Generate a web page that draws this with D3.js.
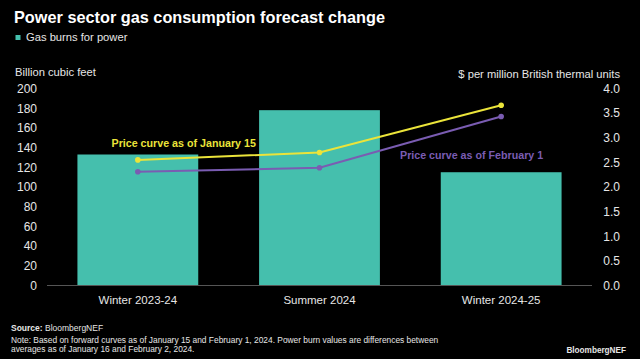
<!DOCTYPE html>
<html>
<head>
<meta charset="utf-8">
<script src="https://cdn.jsdelivr.net/npm/d3@7/dist/d3.min.js"></script>
<style>
html,body{margin:0;padding:0;background:#000;}
svg{display:block;font-family:"Liberation Sans",Arial,sans-serif;}
</style>
</head>
<body>
<svg id="chart" width="640" height="359"></svg>
<script>
const categories = ["Winter 2023-24", "Summer 2024", "Winter 2024-25"];
const gasBurns = [133, 178, 115];
const priceJan15 = [2.55, 2.70, 3.66];
const priceFeb1 = [2.31, 2.39, 3.43];
const leftTicks = [0, 20, 40, 60, 80, 100, 120, 140, 160, 180, 200];
const rightTicks = [0, 0.5, 1, 1.5, 2, 2.5, 3, 3.5, 4];

const svg = d3.select("#chart");
svg.append("rect").attr("width", 640).attr("height", 359).attr("fill", "#000");

const teal = "#45bfad", yellow = "#ebe43a", purple = "#7a5cb2";

const x = d3.scaleBand().domain(categories).range([47, 592]).paddingInner(0.335).paddingOuter(0.1675);
const yL = d3.scaleLinear().domain([0, 200]).range([285.5, 88.5]);
const yR = d3.scaleLinear().domain([0, 4]).range([285.5, 88.5]);

// Title & legend
svg.append("text").attr("x", 14).attr("y", 23).attr("fill", "#fff")
  .attr("font-weight", "bold").attr("font-size", 16.3).text("Power sector gas consumption forecast change");
svg.append("rect").attr("x", 15.5).attr("y", 35).attr("width", 5).attr("height", 5).attr("fill", teal);
svg.append("text").attr("x", 26).attr("y", 41.3).attr("fill", "#e6e6e6").attr("font-size", 11.2).text("Gas burns for power");

// Axis titles
svg.append("text").attr("x", 15).attr("y", 75.5).attr("fill", "#e6e6e6").attr("font-size", 11.2).text("Billion cubic feet");
svg.append("text").attr("x", 620).attr("y", 77.5).attr("text-anchor", "end").attr("fill", "#e6e6e6").attr("font-size", 11.2).text("$ per million British thermal units");

// Bars
svg.append("g").selectAll("rect").data(categories).join("rect")
  .attr("x", d => x(d)).attr("width", x.bandwidth())
  .attr("y", (d, i) => yL(gasBurns[i])).attr("height", (d, i) => yL(0) - yL(gasBurns[i]))
  .attr("fill", teal);

// Left axis
const gl = svg.append("g").attr("transform", "translate(37,0)")
  .call(d3.axisLeft(yL).tickValues(leftTicks).tickSize(0).tickPadding(0).tickFormat(d3.format("d")));
gl.select(".domain").remove();
gl.selectAll("text").attr("fill", "#e6e6e6").attr("font-size", 12).attr("font-family", "Liberation Sans, Arial, sans-serif");

// Right axis
const gr = svg.append("g").attr("transform", "translate(620,0)")
  .call(d3.axisLeft(yR).tickValues(rightTicks).tickSize(0).tickPadding(0).tickFormat(d3.format(".1f")));
gr.select(".domain").remove();
gr.selectAll("text").attr("fill", "#e6e6e6").attr("font-size", 12).attr("font-family", "Liberation Sans, Arial, sans-serif");

// Baseline
svg.append("line").attr("x1", 47).attr("x2", 592).attr("y1", yL(0)).attr("y2", yL(0))
  .attr("stroke", "#555").attr("stroke-width", 1);

// Bottom axis
const gb = svg.append("g").attr("transform", `translate(0,${yL(0)})`)
  .call(d3.axisBottom(x).tickSize(0).tickPadding(0));
gb.select(".domain").remove();
gb.selectAll("text").attr("fill", "#e6e6e6").attr("font-size", 11.5).attr("font-family", "Liberation Sans, Arial, sans-serif")
  .attr("dy", null).attr("y", 18);

// Lines
const cx = d => x(d) + x.bandwidth() / 2;
function drawLine(vals, color) {
  const line = d3.line().x((v, i) => cx(categories[i])).y(v => yR(v));
  svg.append("path").datum(vals).attr("d", line).attr("fill", "none").attr("stroke", color).attr("stroke-width", 2);
  svg.append("g").selectAll("circle").data(vals).join("circle")
    .attr("cx", (v, i) => cx(categories[i])).attr("cy", v => yR(v)).attr("r", 2.8).attr("fill", color);
}
drawLine(priceFeb1, purple);
drawLine(priceJan15, yellow);

// Annotations
svg.append("text").attr("x", 111.5).attr("y", 147.2).attr("fill", yellow).attr("font-weight", "bold").attr("font-size", 10.7)
  .text("Price curve as of January 15");
svg.append("text").attr("x", 400).attr("y", 158.9).attr("fill", purple).attr("font-weight", "bold").attr("font-size", 10.7)
  .text("Price curve as of February 1");

// Footer
const src = svg.append("text").attr("x", 11).attr("y", 330.5).attr("fill", "#e6e6e6").attr("font-size", 8.5);
src.append("tspan").attr("font-weight", "bold").text("Source:");
src.append("tspan").text(" BloombergNEF");
svg.append("text").attr("x", 11).attr("y", 343.3).attr("fill", "#e6e6e6").attr("font-size", 8.4)
  .text("Note: Based on forward curves as of January 15 and February 1, 2024. Power burn values are differences between");
svg.append("text").attr("x", 11).attr("y", 352.2).attr("fill", "#e6e6e6").attr("font-size", 8.4)
  .text("averages as of January 16 and February 2, 2024.");
svg.append("text").attr("x", 626).attr("y", 353).attr("text-anchor", "end").attr("fill", "#e6e6e6")
  .attr("font-weight", "bold").attr("font-size", 8.2).text("BloombergNEF");
</script>
</body>
</html>
